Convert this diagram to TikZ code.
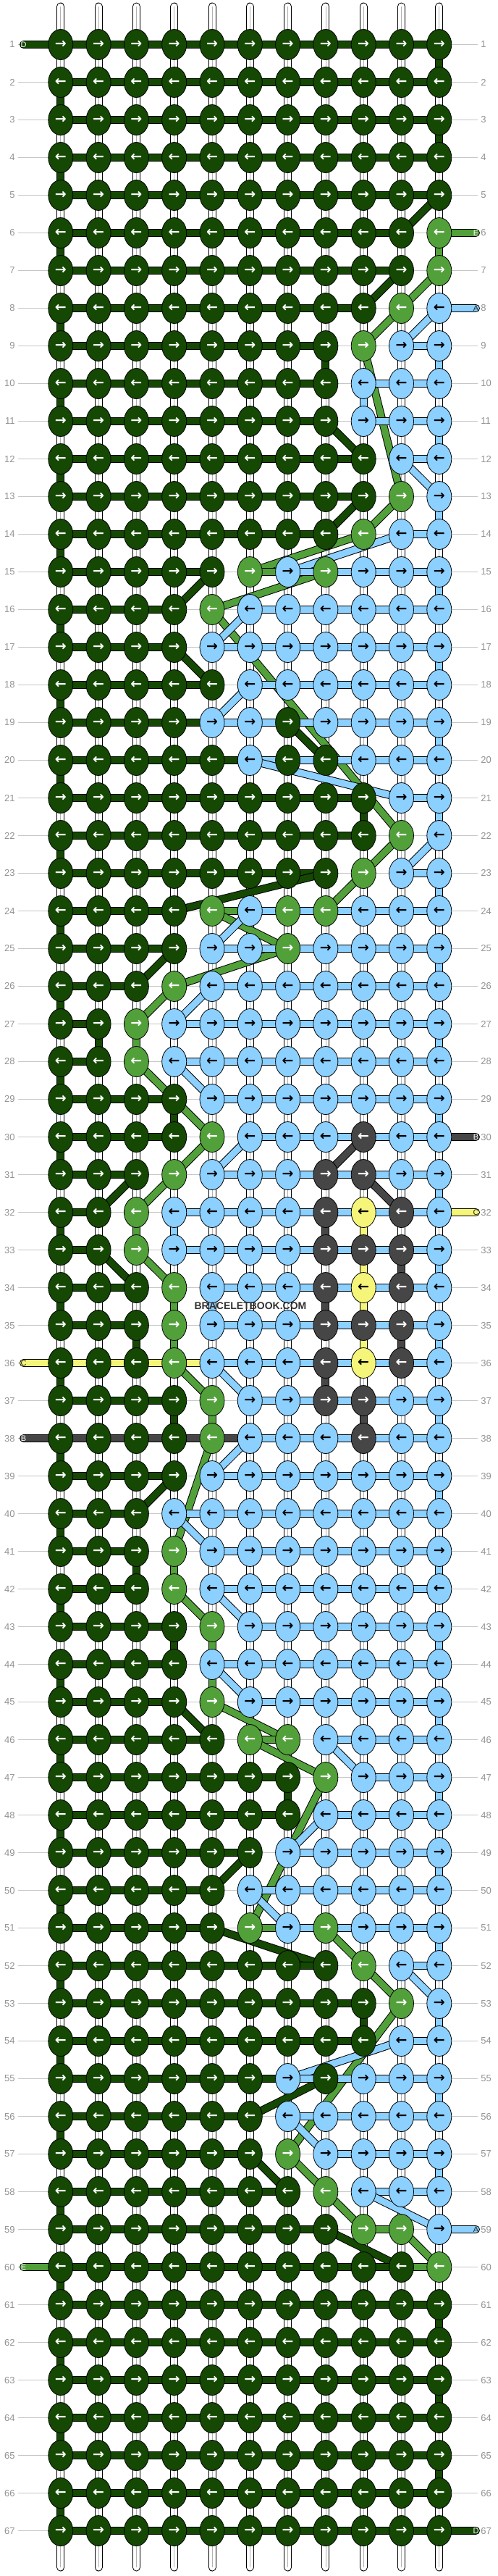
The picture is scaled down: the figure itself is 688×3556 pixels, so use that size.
\documentclass[tikz,border=0pt]{standalone}
\usepackage{fontspec}
\setmainfont{Liberation Sans}
\newfontfamily\arrowfont{DejaVu Sans}
\usetikzlibrary{shapes.geometric}
\definecolor{colD}{RGB}{20,72,3}
\definecolor{colE}{RGB}{82,160,58}
\definecolor{colA}{RGB}{140,208,255}
\definecolor{colB}{RGB}{70,70,70}
\definecolor{colC}{RGB}{245,245,122}

\newcount\colcnt
\def\setrow#1#2{\def\currow{#1}\colcnt=0 \parsechars#2\relax}
\def\parsechars#1{\ifx#1\relax\else\global\advance\colcnt by 1 \expandafter\xdef\csname kc-\currow-\the\colcnt\endcsname{#1}\expandafter\parsechars\fi}

\setrow{1}{DDDDDDDDDDD}
\setrow{2}{DDDDDDDDDDD}
\setrow{3}{DDDDDDDDDDD}
\setrow{4}{DDDDDDDDDDD}
\setrow{5}{DDDDDDDDDDD}
\setrow{6}{DDDDDDDDDDE}
\setrow{7}{DDDDDDDDDDE}
\setrow{8}{DDDDDDDDDEA}
\setrow{9}{DDDDDDDDEAA}
\setrow{10}{DDDDDDDDAAA}
\setrow{11}{DDDDDDDDAAA}
\setrow{12}{DDDDDDDDDAA}
\setrow{13}{DDDDDDDDDEA}
\setrow{14}{DDDDDDDDEAA}
\setrow{15}{DDDDDEAEAAA}
\setrow{16}{DDDDEAAAAAA}
\setrow{17}{DDDDAAAAAAA}
\setrow{18}{DDDDDAAAAAA}
\setrow{19}{DDDDAADAAAA}
\setrow{20}{DDDDDADDAAA}
\setrow{21}{DDDDDDDDDAA}
\setrow{22}{DDDDDDDDDEA}
\setrow{23}{DDDDDDDDEAA}
\setrow{24}{DDDDEAEEAAA}
\setrow{25}{DDDDAAEAAAA}
\setrow{26}{DDDEAAAAAAA}
\setrow{27}{DDEAAAAAAAA}
\setrow{28}{DDEAAAAAAAA}
\setrow{29}{DDDDAAAAAAA}
\setrow{30}{DDDDEAAABAA}
\setrow{31}{DDDEAAABBAA}
\setrow{32}{DDEAAAABCBA}
\setrow{33}{DDEAAAABBBA}
\setrow{34}{DDDEAAABCBA}
\setrow{35}{DDDEAAABBBA}
\setrow{36}{DDDEAAABCBA}
\setrow{37}{DDDDEAABBAA}
\setrow{38}{DDDDEAAABAA}
\setrow{39}{DDDDAAAAAAA}
\setrow{40}{DDDAAAAAAAA}
\setrow{41}{DDDEAAAAAAA}
\setrow{42}{DDDEAAAAAAA}
\setrow{43}{DDDDEAAAAAA}
\setrow{44}{DDDDAAAAAAA}
\setrow{45}{DDDDEAAAAAA}
\setrow{46}{DDDDDEEAAAA}
\setrow{47}{DDDDDDDEAAA}
\setrow{48}{DDDDDDDAAAA}
\setrow{49}{DDDDDDAAAAA}
\setrow{50}{DDDDDAAAAAA}
\setrow{51}{DDDDDEAEAAA}
\setrow{52}{DDDDDDDDEAA}
\setrow{53}{DDDDDDDDDEA}
\setrow{54}{DDDDDDDDDAA}
\setrow{55}{DDDDDDADAAA}
\setrow{56}{DDDDDDAAAAA}
\setrow{57}{DDDDDDEAAAA}
\setrow{58}{DDDDDDDEAAA}
\setrow{59}{DDDDDDDDEEA}
\setrow{60}{DDDDDDDDDDE}
\setrow{61}{DDDDDDDDDDD}
\setrow{62}{DDDDDDDDDDD}
\setrow{63}{DDDDDDDDDDD}
\setrow{64}{DDDDDDDDDDD}
\setrow{65}{DDDDDDDDDDD}
\setrow{66}{DDDDDDDDDDD}
\setrow{67}{DDDDDDDDDDD}

\newcommand\arR{→}
\newcommand\arL{←}

\newcommand\drawstring[2]{%
  \def\curc{#1}%
  \gdef\haveprev{0}%
  \foreach \rr in {1,...,67}{%
    \foreach \cc in {1,...,11}{%
      \ifodd\rr\relax \edef\cn{\cc}\else \edef\cn{\the\numexpr12-\cc\relax}\fi
      \edef\kc{\csname kc-\rr-\cn\endcsname}%
      \ifx\kc\curc
        \if1\haveprev
          \draw[strout] (\prevk) -- (p-\rr-\cn);
          \draw[strin,draw=#2] (\prevk) -- (p-\rr-\cn);
        \fi
        \xdef\prevk{p-\rr-\cn}\gdef\haveprev{1}%
      \fi
    }%
  }%
}
\newcommand\drawtail[3]{%
  \draw[strout,line cap=round] (#2) -- (#3);
  \draw[strin,draw=#1,line cap=round] (#2) -- (#3);
}

\begin{document}
\begin{tikzpicture}[x=0.5pt,y=-0.5pt,
  knot/.style={ellipse,draw=black,line width=0.4pt,minimum width=17pt,minimum height=21pt,inner sep=0pt,font=\arrowfont\bfseries\fontsize{9.5}{10}\selectfont},
  knotD/.style={fill=colD,text=white},
  knotE/.style={fill=colE,text=white},
  knotA/.style={fill=colA,text=black},
  knotB/.style={fill=colB,text=white},
  knotC/.style={fill=colC,text=black},
  strout/.style={draw=black,line width=5.5pt},
  strin/.style={line width=4.5pt},
  warpout/.style={draw=black,line width=5.5pt,line cap=round},
  warpin/.style={draw=white,line width=4.5pt,line cap=round},
  warpmid/.style={draw=gray!60,line width=0.4pt},
  guide/.style={draw=gray!45,line width=0.5pt},
  lab/.style={text=gray!85,font=\fontsize{6.5}{7}\selectfont,inner sep=2pt},
  taillab/.style={font=\fontsize{5.5}{6}\selectfont,inner sep=0pt},
  wm/.style={font=\bfseries\fontsize{7}{8}\selectfont,text=black!80}]
\useasboundingbox (0,0) rectangle (688,3556);
\fill[white] (0,0) rectangle (688,3556);

% knot positions
\foreach \rr in {1,...,67}{\foreach \cn in {1,...,11}{%
  \coordinate (p-\rr-\cn) at ({83.8+52.3*(\cn-1)},{61.5+52*(\rr-1)});}}

% row numbers and guide lines
\foreach \rr in {1,...,67}{%
  \node[lab,anchor=east] (ll-\rr) at (25,{61.5+52*(\rr-1)}) {\rr};
  \node[lab,anchor=west] (rl-\rr) at (660,{61.5+52*(\rr-1)}) {\rr};
  \draw[guide] (ll-\rr.east) -- (rl-\rr.west);
}

% vertical base strings
\foreach \cn in {1,...,11}{%
  \coordinate (wt-\cn) at ({83.8+52.3*(\cn-1)},9);
  \coordinate (wb-\cn) at ({83.8+52.3*(\cn-1)},3544);
  \draw[warpout] (wt-\cn) -- (wb-\cn);
  \draw[warpin] (wt-\cn) -- (wb-\cn);
  \draw[warpmid] (wt-\cn) -- (wb-\cn);
}

% tail ends
\coordinate (tD-s) at (32.5,61.5);
\coordinate (tD-e) at (657.5,3493.5);
\coordinate (tE-s) at (657.5,321.5);
\coordinate (tE-e) at (32.5,3129.5);
\coordinate (tA-s) at (657.5,425.5);
\coordinate (tA-e) at (657.5,3077.5);
\coordinate (tB-s) at (657.5,1569.5);
\coordinate (tB-e) at (32.5,1985.5);
\coordinate (tC-s) at (657.5,1673.5);
\coordinate (tC-e) at (32.5,1881.5);

% working strings
\drawtail{colE}{tE-s}{p-6-11}
\drawtail{colE}{tE-e}{p-60-11}
\drawstring{E}{colE}
\drawtail{colD}{tD-s}{p-1-1}
\drawtail{colD}{tD-e}{p-67-11}
\drawstring{D}{colD}
\drawtail{colB}{tB-s}{p-30-9}
\drawtail{colB}{tB-e}{p-38-9}
\drawstring{B}{colB}
\drawtail{colC}{tC-s}{p-32-9}
\drawtail{colC}{tC-e}{p-36-9}
\drawstring{C}{colC}
\drawtail{colA}{tA-s}{p-8-11}
\drawtail{colA}{tA-e}{p-59-11}
\drawstring{A}{colA}

% knots
\foreach \rr in {1,...,67}{\foreach \cn in {1,...,11}{%
  \edef\kc{\csname kc-\rr-\cn\endcsname}%
  \edef\tmp{\noexpand\node[knot,knot\kc] (k-\rr-\cn) at (p-\rr-\cn) {\ifodd\rr\space\noexpand\arR\else\noexpand\arL\fi};}%
  \tmp
}}

% tail letters
\node[taillab,text=white] (lD-s) at (tD-s) {D};
\node[taillab,text=white] (lD-e) at (tD-e) {D};
\node[taillab,text=white] (lE-s) at (tE-s) {E};
\node[taillab,text=white] (lE-e) at (tE-e) {E};
\node[taillab,text=black!85] (lA-s) at (tA-s) {A};
\node[taillab,text=black!85] (lA-e) at (tA-e) {A};
\node[taillab,text=white] (lB-s) at (tB-s) {B};
\node[taillab,text=white] (lB-e) at (tB-e) {B};
\node[taillab,text=black!85] (lC-s) at (tC-s) {C};
\node[taillab,text=black!85] (lC-e) at (tC-e) {C};

\node[wm] (wmark) at (346,1803) {BRACELETBOOK.COM};
\end{tikzpicture}
\end{document}
